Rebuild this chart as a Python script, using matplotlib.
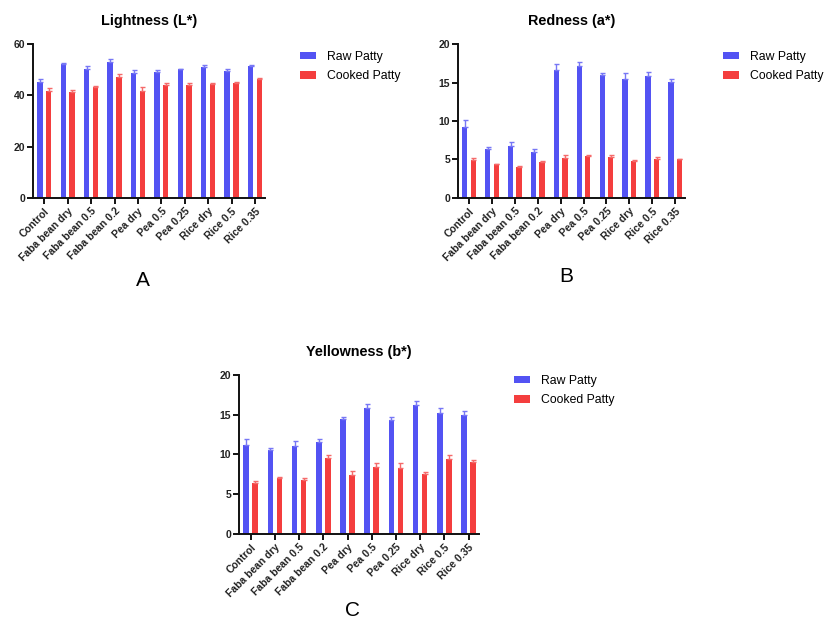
import matplotlib
matplotlib.use("Agg")
import matplotlib.pyplot as plt
import numpy as np
from matplotlib.patches import Patch

categories = ["Control", "Faba bean dry", "Faba bean 0.5", "Faba bean 0.2", "Pea dry",
              "Pea 0.5", "Pea 0.25", "Rice dry", "Rice 0.5", "Rice 0.35"]

L_raw = [45.1, 52.3, 50.5, 53.2, 48.6, 49.3, 50.2, 51.2, 49.7, 51.6]
L_raw_err = [1.4, 0.3, 1.0, 0.9, 1.2, 0.6, 0.3, 0.7, 0.5, 0.3]
L_cooked = [41.7, 41.2, 43.2, 47.3, 41.7, 43.9, 44.1, 44.5, 45.0, 46.5]
L_cooked_err = [1.1, 1.0, 0.4, 1.1, 1.7, 1.1, 0.9, 0.5, 0.4, 0.4]

a_raw = [9.17, 6.4, 6.8, 5.96, 16.7, 17.2, 16.0, 15.5, 15.9, 15.1]
a_raw_err = [0.95, 0.25, 0.5, 0.35, 0.75, 0.45, 0.25, 0.7, 0.5, 0.35]
a_cooked = [4.96, 4.35, 3.96, 4.6, 5.2, 5.4, 5.35, 4.8, 5.1, 5.0]
a_cooked_err = [0.2, 0.1, 0.15, 0.15, 0.4, 0.15, 0.25, 0.15, 0.2, 0.1]

b_raw = [11.2, 10.55, 11.05, 11.5, 14.4, 15.85, 14.3, 16.2, 15.2, 14.9]
b_raw_err = [0.7, 0.3, 0.6, 0.4, 0.35, 0.45, 0.4, 0.5, 0.6, 0.6]
b_cooked = [6.35, 7.0, 6.75, 9.6, 7.4, 8.36, 8.3, 7.5, 9.4, 9.03]
b_cooked_err = [0.3, 0.2, 0.25, 0.3, 0.45, 0.55, 0.55, 0.25, 0.55, 0.2]

titles = ["Lightness (L*)", "Redness (a*)", "Yellowness (b*)"]
panel_letters = ["A", "B", "C"]
series_names = ["Raw Patty", "Cooked Patty"]

BLUE = "#5353F3"
RED = "#F43E3E"
BLUE_ERR = "#7777F5"
RED_ERR = "#F56A6A"

plt.rcParams['font.family'] = ['Liberation Sans', 'DejaVu Sans']

W, H = 826, 622
fig = plt.figure(figsize=(W / 100, H / 100), dpi=100)

def px_axes(x0, x1, ytop, ybot):
    return fig.add_axes([x0 / W, 1 - ybot / H, (x1 - x0) / W, (ybot - ytop) / H])

panels = [
    dict(box=(33.3, 265, 44.3, 197.7), raw=L_raw, rawe=L_raw_err, ck=L_cooked, cke=L_cooked_err,
         ymax=60, ystep=20, leg=(294, 45), letter=(143, 281)),
    dict(box=(458.3, 685, 44.3, 197.7), raw=a_raw, rawe=a_raw_err, ck=a_cooked, cke=a_cooked_err,
         ymax=20, ystep=5, leg=(717, 45), letter=(566, 276)),
    dict(box=(239.3, 479, 375, 533.7), raw=b_raw, rawe=b_raw_err, ck=b_cooked, cke=b_cooked_err,
         ymax=20, ystep=5, leg=(508, 369), letter=(352, 610)),
]

x = np.arange(len(categories))
bw = 0.23
off = 0.186

for i, p in enumerate(panels):
    ax = px_axes(*p["box"])
    ax.bar(x - off, p["raw"], bw, color=BLUE, zorder=2)
    ax.bar(x + off, p["ck"], bw, color=RED, zorder=2)
    ax.errorbar(x - off, p["raw"], yerr=[np.zeros(len(x)), p["rawe"]], fmt="none",
                ecolor=BLUE_ERR, elinewidth=1.0, capsize=1.8, capthick=1.0, zorder=3)
    ax.errorbar(x + off, p["ck"], yerr=[np.zeros(len(x)), p["cke"]], fmt="none",
                ecolor=RED_ERR, elinewidth=1.0, capsize=1.8, capthick=1.0, zorder=3)
    ax.set_xlim(-0.47, 9.43)
    ax.set_ylim(0, p["ymax"])
    ax.set_yticks(np.arange(0, p["ymax"] + 0.1, p["ystep"]))
    ax.set_xticks(x)
    ax.set_xticklabels(categories, rotation=45, ha="right", rotation_mode="anchor",
                       fontsize=7.5, fontweight="bold", color="#222222")
    for lab in ax.get_yticklabels():
        lab.set_fontsize(7.5)
        lab.set_fontweight("bold")
        lab.set_color("#222222")
    for s in ["top", "right"]:
        ax.spines[s].set_visible(False)
    for s in ["left", "bottom"]:
        ax.spines[s].set_linewidth(1.4)
        ax.spines[s].set_color("#111111")
    ax.tick_params(axis="both", width=1.4, length=4, color="#111111", pad=2)
    ax.set_title(titles[i], fontsize=10.4, fontweight="bold", pad=14)
    handles = [Patch(facecolor=BLUE, edgecolor="none"), Patch(facecolor=RED, edgecolor="none")]
    lx, ly = p["leg"]
    fig.legend(handles, series_names, loc="upper left", bbox_to_anchor=(lx / W, 1 - ly / H),
               frameon=False, fontsize=8.8, handlelength=1.3, handleheight=0.55,
               labelspacing=0.6, handletextpad=0.9, borderpad=0)
    tx, ty = p["letter"]
    fig.text(tx / W, 1 - ty / H, panel_letters[i], fontsize=15, ha="center", va="center")

fig.savefig("out.png", dpi=100)
